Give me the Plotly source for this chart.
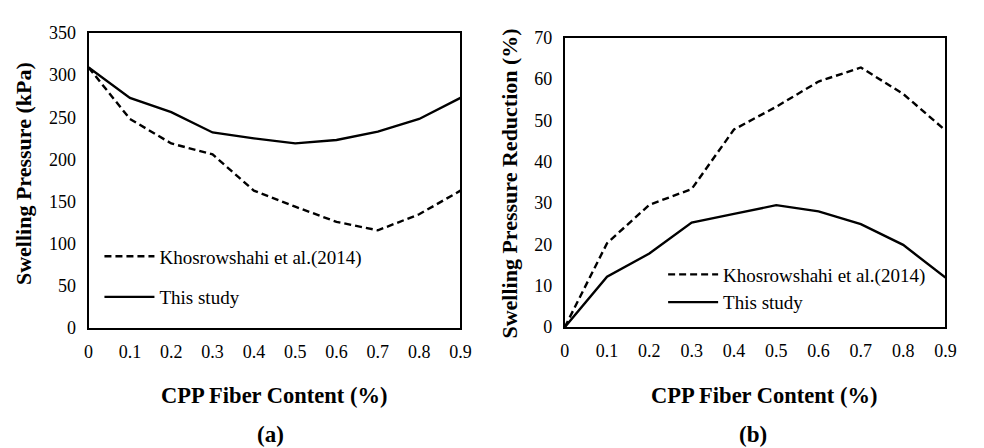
import plotly.graph_objects as go

fiber = [0, 0.1, 0.2, 0.3, 0.4, 0.5, 0.6, 0.7, 0.8, 0.9]
sp_khos = [309, 248, 219, 206, 163, 144, 126, 116, 135, 163]
sp_this = [309, 273, 256, 232, 225, 219, 223, 233, 248, 273]
red_khos = [0, 20.3, 29.6, 33.4, 47.8, 53.3, 59.4, 62.8, 56.4, 47.6]
red_this = [0, 12.2, 17.8, 25.3, 27.4, 29.5, 28.0, 24.9, 19.9, 12.0]
x_ticks = [0, 0.1, 0.2, 0.3, 0.4, 0.5, 0.6, 0.7, 0.8, 0.9]
x_ticktext = ["0", "0.1", "0.2", "0.3", "0.4", "0.5", "0.6", "0.7", "0.8", "0.9"]
names = ["Khosrowshahi et al.(2014)", "This study"]

FONT = "Liberation Serif"
W, H = 984, 448

fig = go.Figure()
dash = "7px,4px"
LW = 2.4
fig.add_trace(go.Scatter(x=fiber, y=sp_khos, mode="lines", name=names[0],
                         line=dict(color="black", width=LW, dash=dash),
                         xaxis="x", yaxis="y", legend="legend", legendgroup="a1"))
fig.add_trace(go.Scatter(x=fiber, y=sp_this, mode="lines", name=names[1],
                         line=dict(color="black", width=LW),
                         xaxis="x", yaxis="y", legend="legend", legendgroup="a2"))
fig.add_trace(go.Scatter(x=fiber, y=red_khos, mode="lines", name=names[0],
                         line=dict(color="black", width=LW, dash=dash),
                         xaxis="x2", yaxis="y2", legend="legend2", legendgroup="b1"))
fig.add_trace(go.Scatter(x=fiber, y=red_this, mode="lines", name=names[1],
                         line=dict(color="black", width=LW),
                         xaxis="x2", yaxis="y2", legend="legend2", legendgroup="b2"))

def px(xp):
    return xp / W

def py(yp):
    return (H - yp) / H

axis_common = dict(showgrid=False, zeroline=False, showline=True, mirror=True,
                   linecolor="black", linewidth=2, ticks="",
                   tickfont=dict(family=FONT, size=18, color="black"))

fig.update_layout(
    width=W, height=H,
    margin=dict(l=0, r=0, t=0, b=0),
    paper_bgcolor="white", plot_bgcolor="white",
    font=dict(family=FONT, color="black"),
    xaxis=dict(domain=[px(85), px(463)], range=[0, 0.9], tickvals=x_ticks, ticktext=x_ticktext,
               anchor="y", ticklabelstandoff=6, **axis_common),
    yaxis=dict(domain=[py(333), py(24)], range=[0, 350], dtick=50, anchor="x",
               ticklabelstandoff=7, **axis_common),
    xaxis2=dict(domain=[px(569), px(956)], range=[0, 0.9], tickvals=x_ticks, ticktext=x_ticktext,
                anchor="y2", ticklabelstandoff=6, **axis_common),
    yaxis2=dict(domain=[py(332), py(29)], range=[0, 70], dtick=10, anchor="x2",
                ticklabelstandoff=7, **axis_common),
    legend=dict(x=px(96), y=py(238), xanchor="left", yanchor="top",
                bgcolor="rgba(0,0,0,0)", font=dict(family=FONT, size=19, color="black"),
                tracegroupgap=13, itemwidth=50),
    legend2=dict(x=px(669), y=py(257), xanchor="left", yanchor="top",
                 bgcolor="rgba(0,0,0,0)", font=dict(family=FONT, size=19, color="black"),
                 tracegroupgap=0, itemwidth=50),
)

ann = [
    dict(text="<b>Swelling Pressure (kPa)</b>", x=px(19), y=py(171), textangle=-90, size=22),
    dict(text="<b>Swelling Pressure Reduction (%)</b>", x=px(513), y=py(182), textangle=-90, size=22),
    dict(text="<b>CPP Fiber Content (%)</b>", x=px(273), y=py(404), size=22.5),
    dict(text="<b>CPP Fiber Content (%)</b>", x=px(772), y=py(404), size=22.5),
    dict(text="<b>(a)</b>", x=px(270), y=py(444), size=23),
    dict(text="<b>(b)</b>", x=px(760), y=py(444), size=23),
]
for a in ann:
    size = a.pop("size")
    fig.add_annotation(xref="paper", yref="paper", showarrow=False,
                       xanchor="center", yanchor="middle",
                       font=dict(family=FONT, size=size, color="black"), **a)

fig.write_html("out.html")
